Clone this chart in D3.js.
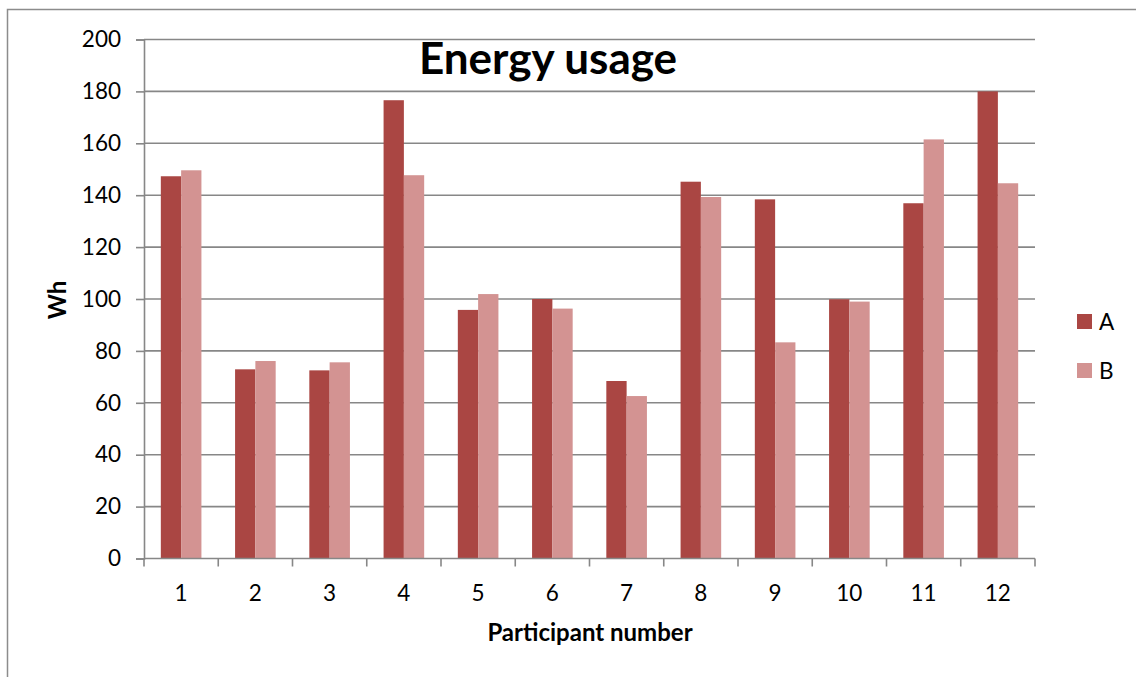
<!DOCTYPE html>
<html>
<head>
<meta charset="utf-8">
<script src="https://cdn.jsdelivr.net/npm/d3@7"></script>
<style>
  html, body { margin: 0; padding: 0; background: #fff; }
  svg { display: block; font-family: Lato, "Open Sans", sans-serif; }
</style>
</head>
<body>
<svg id="chart" width="1136" height="677"></svg>
<script>
// Participants and the two measured series (Wh)
const participants = ["1","2","3","4","5","6","7","8","9","10","11","12"];
const seriesNames = ["A", "B"];
const valuesA = [147.3, 72.9, 72.5, 176.6, 95.8, 100.0, 68.4, 145.2, 138.4, 99.9, 136.9, 180.0];
const valuesB = [149.6, 76.1, 75.6, 147.7, 101.9, 96.3, 62.6, 139.3, 83.3, 99.0, 161.5, 144.6];
const yTicks = [0, 20, 40, 60, 80, 100, 120, 140, 160, 180, 200];
const colors = ["#AA4643", "#D39392"];

const svg = d3.select("#chart");
const plot = { left: 144, right: 1035, top: 39.5, bottom: 558.5 };
const gridColor = "#878787";

// Outer chart-area frame
svg.append("rect")
  .attr("x", 7.5).attr("y", 9.5)
  .attr("width", 1136).attr("height", 700)
  .attr("fill", "none").attr("stroke", "#8c8c8c").attr("stroke-width", 1.5);

const x = d3.scaleBand().domain(participants).range([plot.left, plot.right]).padding(0);
const y = d3.scaleLinear().domain([0, 200]).range([plot.bottom, plot.top]);

// Horizontal gridlines
svg.append("g").selectAll("line").data(yTicks.filter(d => d > 0)).join("line")
  .attr("x1", plot.left).attr("x2", plot.right)
  .attr("y1", d => y(d)).attr("y2", d => y(d))
  .attr("stroke", gridColor).attr("stroke-width", 1.6);

// Bars: each participant gets a pair of adjacent bars
const barW = 20.3;
const groupW = barW * 2;
const rows = participants.map((p, i) => ({ p, vals: [valuesA[i], valuesB[i]] }));
const groups = svg.append("g").selectAll("g").data(rows).join("g")
  .attr("transform", d => `translate(${x(d.p) + (x.bandwidth() - groupW) / 2},0)`);
groups.selectAll("rect").data(d => d.vals.map((v, k) => ({ v, k }))).join("rect")
  .attr("x", d => d.k * barW)
  .attr("width", barW)
  .attr("y", d => y(d.v))
  .attr("height", d => y(0) - y(d.v))
  .attr("fill", d => colors[d.k]);

// Y axis
const yAxis = d3.axisLeft(y).tickValues(yTicks).tickSize(8).tickPadding(15).tickFormat(d3.format("d"));
const gy = svg.append("g").attr("transform", `translate(${plot.left},0)`).call(yAxis);
gy.select(".domain").attr("stroke", gridColor).attr("stroke-width", 1.6);
gy.selectAll(".tick line").attr("stroke", gridColor).attr("stroke-width", 1.6);
gy.selectAll(".tick text").attr("font-size", 22.5).attr("fill", "#000").attr("font-family", "Lato, sans-serif");

// X axis: ticks sit on the band boundaries
svg.append("line")
  .attr("x1", plot.left).attr("x2", plot.right)
  .attr("y1", plot.bottom).attr("y2", plot.bottom)
  .attr("stroke", gridColor).attr("stroke-width", 1.6);
const bounds = participants.map(p => x(p)).concat([plot.right]);
svg.append("g").selectAll("line").data(bounds).join("line")
  .attr("x1", d => d).attr("x2", d => d)
  .attr("y1", plot.bottom).attr("y2", plot.bottom + 8)
  .attr("stroke", gridColor).attr("stroke-width", 1.6);
svg.append("g").selectAll("text").data(participants).join("text")
  .attr("x", d => x(d) + x.bandwidth() / 2)
  .attr("y", 601)
  .attr("text-anchor", "middle")
  .attr("font-size", 22.5)
  .text(d => d);

// Title and axis titles
svg.append("text").attr("x", 548).attr("y", 74).attr("text-anchor", "middle")
  .attr("font-size", 44).attr("font-weight", "bold").text("Energy usage");
svg.append("text").attr("x", 590).attr("y", 641).attr("text-anchor", "middle")
  .attr("font-size", 24).attr("font-weight", "bold").text("Participant number");
svg.append("text").attr("transform", "translate(66,300) rotate(-90)").attr("text-anchor", "middle")
  .attr("font-size", 24).attr("font-weight", "bold").text("Wh");

// Legend
const legend = svg.append("g").selectAll("g").data(seriesNames).join("g")
  .attr("transform", (d, i) => `translate(1077,${314 + i * 49})`);
legend.append("rect").attr("width", 15).attr("height", 15).attr("fill", (d, i) => colors[i]);
legend.append("text").attr("x", 22).attr("y", 15.5).attr("font-size", 22.5).text(d => d);
</script>
</body>
</html>
